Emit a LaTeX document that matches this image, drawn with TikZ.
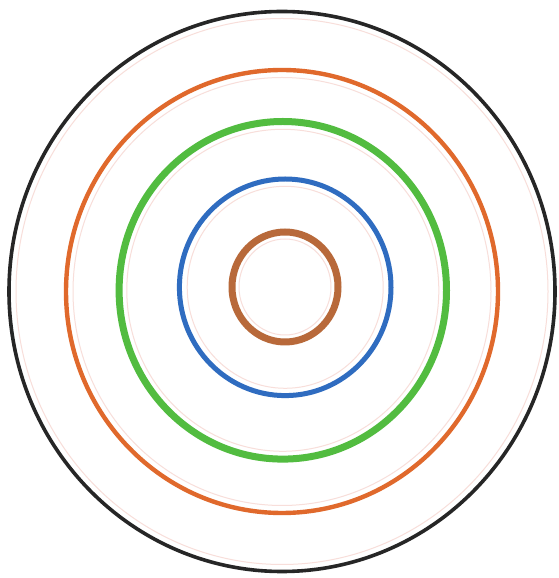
\documentclass[tikz,border=0pt]{standalone}
\definecolor{ringblack}{HTML}{262626}
\definecolor{ringorange}{HTML}{E0692C}
\definecolor{ringgreen}{HTML}{52BC40}
\definecolor{ringblue}{HTML}{2F6CC0}
\definecolor{ringbrown}{HTML}{B8693A}
\definecolor{faintpink}{HTML}{F8DEDA}
\begin{document}
\begin{tikzpicture}[x=1pt,y=1pt]
\useasboundingbox (0,0) rectangle (558,578);
\fill[white] (0,0) rectangle (558,578);
\coordinate (cblack) at (282,286.5);
\coordinate (corange) at (282,286.5);
\coordinate (cgreen) at (282.8,287.7);
\coordinate (cblue) at (285.2,290.7);
\coordinate (cbrown) at (285,291);
% faint companion rings (thin annuli)
\fill[faintpink, even odd rule] (cblack) ellipse [x radius=266.5pt, y radius=273.5pt] (cblack) ellipse [x radius=265.5pt, y radius=272.5pt];
\fill[faintpink, even odd rule] (corange) ellipse [x radius=209.5pt, y radius=214.5pt] (corange) ellipse [x radius=208.5pt, y radius=213.5pt];
\fill[faintpink, even odd rule] (cgreen) ellipse [x radius=156.5pt, y radius=161.5pt] (cgreen) ellipse [x radius=155.5pt, y radius=160.5pt];
\fill[faintpink, even odd rule] (cblue) ellipse [x radius=98.5pt, y radius=101.5pt] (cblue) ellipse [x radius=97.5pt, y radius=100.5pt];
\fill[faintpink, even odd rule] (cbrown) ellipse [x radius=46.5pt, y radius=48.5pt] (cbrown) ellipse [x radius=45.5pt, y radius=47.5pt];
% rings as annuli
\fill[ringblack, even odd rule] (cblack) ellipse [x radius=274.8pt, y radius=281.8pt] (cblack) ellipse [x radius=271.2pt, y radius=278.2pt];
\fill[ringorange, even odd rule] (corange) ellipse [x radius=218.2pt, y radius=223.7pt] (corange) ellipse [x radius=213.8pt, y radius=219.3pt];
\fill[ringgreen, even odd rule] (cgreen) ellipse [x radius=167.2pt, y radius=172.3pt] (cgreen) ellipse [x radius=160.2pt, y radius=165.3pt];
\fill[ringblue, even odd rule] (cblue) ellipse [x radius=108.3pt, y radius=110.8pt] (cblue) ellipse [x radius=103.3pt, y radius=105.8pt];
\fill[ringbrown, even odd rule] (cbrown) ellipse [x radius=56.5pt, y radius=58.5pt] (cbrown) ellipse [x radius=49.5pt, y radius=51.5pt];
\end{tikzpicture}
\end{document}
